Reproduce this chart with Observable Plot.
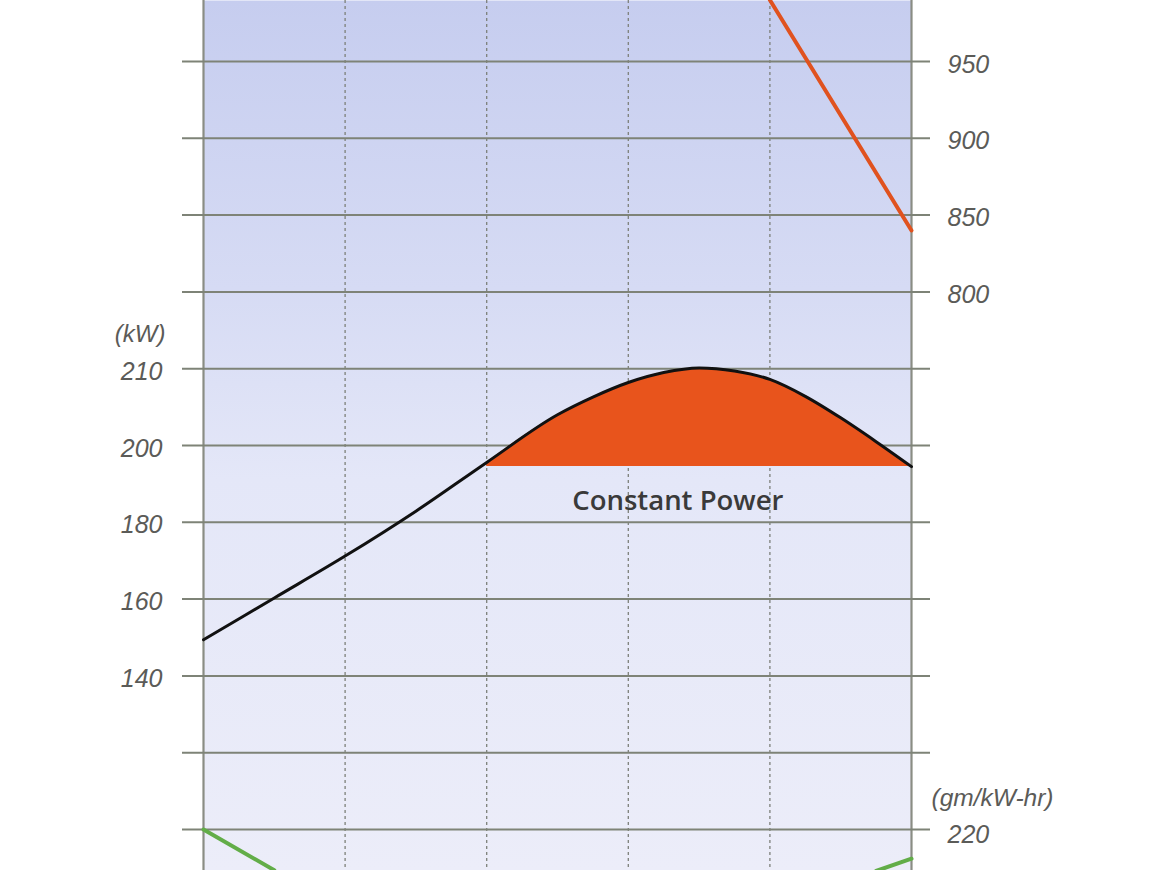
<!DOCTYPE html>
<html>
<head>
<meta charset="utf-8">
<script src="https://cdn.jsdelivr.net/npm/d3@7"></script>
<script src="https://cdn.jsdelivr.net/npm/@observablehq/plot@0.6"></script>
<style>
  html, body { margin: 0; padding: 0; background: #ffffff; overflow: hidden; }
  #chart { position: relative; width: 1160px; height: 870px; }
  #chart svg { position: absolute; left: 0; top: 0; max-width: none; }
</style>
</head>
<body>
<div id="chart"></div>
<script>
// ---- Data ----
const rpm        = [1500, 1600, 1700, 1800, 1900, 2000, 2050, 2100, 2150, 2200, 2250, 2300, 2350, 2400, 2450, 2500];
const power      = [149.4, 160.3, 171.2, 182.9, 195.6, 204.0, 206.3, 208.2, 209.5, 210.1, 209.7, 208.6, 206.4, 203.6, 200.5, 194.5];
const constantPower = 194.5;

const torqueRpm  = [2300, 2500];
const torque     = [990, 840];

const fuelRpm     = [1500, 1600, 2450, 2500];
const fuel        = [220, 214.7, 214.6, 216.2];
const fuelSegment = ["low", "low", "high", "high"];

const gridRpm     = [1500, 1700, 1900, 2100, 2300, 2500];
const torqueGrid  = [450, 500, 550, 600, 650, 700, 750, 800, 850, 900, 950, 1000];
const torqueTicks = [800, 850, 900, 950, 1000];
const powerTicks  = [140, 160, 180, 200, 210];
const powerGridRows = [550, 600, 650, 700, 750];   // grid rows (torque units) the kW ticks sit on
const fuelTicks   = [220];
const powerUnit   = ["(kW)"];
const fuelUnit    = ["(gm/kW-hr)"];
const annotationText = ["Constant Power"];
const annotationRpm  = [2170];

// ---- tables built from the arrays ----
const powerData  = rpm.map((r, i) => ({rpm: r, kW: power[i]}));
const fillData   = powerData.filter(d => d.rpm >= 1900);
const torqueData = torqueRpm.map((r, i) => ({rpm: r, nm: torque[i]}));
const fuelData   = fuelRpm.map((r, i) => ({rpm: r, g: fuel[i], seg: fuelSegment[i]}));
const annotations = annotationText.map((t, i) => ({label: t, rpm: annotationRpm[i], kW: constantPower}));

// the kW axis of the original is broken (non-uniform); map it onto the shared grid rows
const kWToRow = d3.scaleLinear().domain(powerTicks).range(powerGridRows);

const common = {
  width: 1160, height: 870,
  marginLeft: 203, marginRight: 249, marginTop: 0, marginBottom: 0,
  x: {domain: [1500, 2500], axis: null},
  style: {background: "transparent", overflow: "visible"}
};
const sharedY = {domain: [450, 1000], range: [829, -15.8], axis: null};
const numFont = {fontFamily: "Liberation Sans, Arial, sans-serif", fontSize: 25, fontStyle: "italic"};
const gridColor = "#7e8377";

function defs() {
  const d = d3.create("svg:defs");
  const g = d.append("linearGradient").attr("id", "bgGrad")
    .attr("x1", 0).attr("y1", 0).attr("x2", 0).attr("y2", 1);
  [[0, "#c6cdef"], [0.33, "#d6dbf4"], [0.55, "#e4e7f8"], [1, "#ecedf9"]]
    .forEach(([o, c]) => g.append("stop").attr("offset", o).attr("stop-color", c));
  return d.node();
}

// Plot A: background, grid, torque (right axis)
const plotA = Plot.plot({
  ...common,
  y: sharedY,
  marks: [
    defs,
    Plot.frame({fill: "url(#bgGrad)", stroke: "none"}),
    Plot.ruleX(gridRpm.slice(1, -1), {stroke: "#7d807a", strokeWidth: 1.3, strokeDasharray: "3,3"}),
    Plot.ruleX([gridRpm[0], gridRpm[gridRpm.length - 1]], {stroke: "#8a8d84", strokeWidth: 2.2}),
    Plot.ruleY(torqueGrid, {stroke: gridColor, strokeWidth: 2, insetLeft: -21, insetRight: -19}),
    Plot.line(torqueData, {x: "rpm", y: "nm", stroke: "#e0521f", strokeWidth: 4}),
    Plot.axisY(torqueTicks, {anchor: "right", tickSize: 0, tickPadding: 36, label: null,
      color: "#5b5b58", dy: 3, ...numFont})
  ]
});

// Plot B: power (left axis)
const plotB = Plot.plot({
  ...common,
  y: {...sharedY, transform: kWToRow},
  marks: [
    Plot.areaY(fillData, {x: "rpm", y1: constantPower, y2: "kW", curve: "monotone-x", fill: "#e8541c"}),
    Plot.line(powerData, {x: "rpm", y: "kW", curve: "monotone-x", stroke: "#111111", strokeWidth: 3}),
    Plot.axisY(powerTicks, {anchor: "left", tickSize: 0, tickPadding: 41, label: null,
      color: "#5b5b58", dy: 3, ...numFont}),
    Plot.text(powerUnit, {text: d => d, frameAnchor: "left", y: () => powerTicks[powerTicks.length - 1],
      dx: -38, dy: -34, textAnchor: "end", fill: "#5b5b58", ...numFont, fontSize: 24}),
    Plot.text(annotations, {x: "rpm", y: "kW", text: "label", dy: 35, fill: "#3a3a3a",
      fontFamily: "Open Sans, Noto Sans, sans-serif", fontWeight: 600, fontSize: 27.5})
  ]
});

// Plot C: fuel consumption (right axis, bottom)
const plotC = Plot.plot({
  ...common,
  y: {domain: [210, 220], range: [905.8, 829], axis: null},
  marks: [
    Plot.line(fuelData, {x: "rpm", y: "g", z: "seg", stroke: "#62ad48", strokeWidth: 4}),
    Plot.axisY(fuelTicks, {anchor: "right", tickSize: 0, tickPadding: 36, label: null,
      color: "#5b5b58", dy: 5, ...numFont}),
    Plot.text(fuelUnit, {text: d => d, frameAnchor: "right", y: () => fuelTicks[0],
      dx: 20, dy: -31, textAnchor: "start", fill: "#5b5b58", ...numFont, fontSize: 24.5})
  ]
});

const chart = document.getElementById("chart");
chart.append(plotA, plotB, plotC);
</script>
</body>
</html>
